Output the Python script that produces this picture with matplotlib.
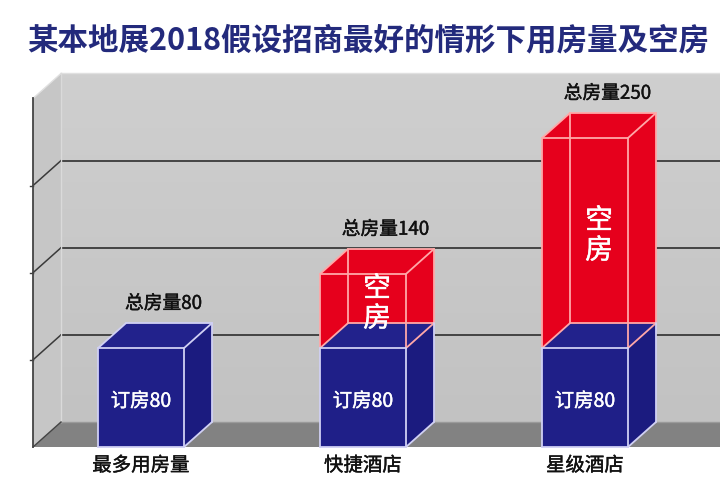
import numpy as np
import matplotlib
matplotlib.use('Agg')
import matplotlib.pyplot as plt
import matplotlib.patheffects as pe
from matplotlib.patches import Polygon

plt.rcParams['font.family'] = ['Noto Sans CJK SC', 'DejaVu Sans']

# data
categories = ['最多用房量', '快捷酒店', '星级酒店']
booked = [80, 80, 80]
total = [80, 140, 250]
title = '某本地展2018假设招商最好的情形下用房量及空房'

# colours
BLUE_FRONT = '#1f1f88'
BLUE_SIDE = '#1b1b7f'
BLUE_TOP = '#22228c'
RED = '#e6001c'
BLUE_EDGE = '#d0d0f4'
RED_EDGE = '#ffa8a8'

# 3d geometry (data units)
px_y = 1.236          # pixels per value unit
px_x = 222.0          # pixels per category step
width = 86 / px_x
dx = 28 / px_x
dy = 25 / px_y
grid_step = 70.5
ymax = 4 * grid_step
wall_x = (33 - 141) / px_x

fig = plt.figure(figsize=(7.2, 4.9), dpi=100)
ax = fig.add_axes([0, 0, 1, 1])
ax.set_xlim(-141 / px_x, (720 - 141) / px_x)
ax.set_ylim(-43 / px_y, 447 / px_y)
ax.axis('off')


def thick(c):
    # a touch heavier than the regular weight
    return [pe.Stroke(linewidth=0.3, foreground=c), pe.Normal()]


right = 4.0
# back wall with a soft vertical gradient
back = Polygon([(wall_x + dx, dy), (right, dy), (right, ymax + dy), (wall_x + dx, ymax + dy)],
               closed=True, facecolor='none', edgecolor='none')
ax.add_patch(back)
grad = np.linspace(0, 1, 64).reshape(-1, 1)
im = ax.imshow(grad, cmap=matplotlib.colors.LinearSegmentedColormap.from_list('w', ['#c2c2c2', '#cfcfcf']),
               extent=(wall_x + dx, right, dy, ymax + dy), origin='lower', aspect='auto', zorder=1)
im.set_clip_path(back)
# left wall
ax.add_patch(Polygon([(wall_x, 0), (wall_x + dx, dy), (wall_x + dx, ymax + dy), (wall_x, ymax)],
                     closed=True, facecolor='#c6c6c6', edgecolor='none', zorder=1))
# floor
ax.add_patch(Polygon([(wall_x, 0), (right, 0), (right, dy), (wall_x + dx, dy)],
                     closed=True, facecolor='#828282', edgecolor='none', zorder=1))

# grid lines on the walls
for k in range(1, 4):
    g = k * grid_step
    ax.plot([wall_x + dx, right], [g + dy, g + dy], color='#3a3a3a', lw=1.3, zorder=2)
    ax.plot([wall_x, wall_x + dx], [g, g + dy], color='#3a3a3a', lw=1.1, zorder=2)
    ax.plot([wall_x - 0.012, wall_x], [g, g], color='#3a3a3a', lw=1.0, zorder=2)
ax.plot([wall_x + dx, right], [ymax + dy, ymax + dy], color='#e0e0e0', lw=1.0, zorder=2)
ax.plot([wall_x, wall_x + dx], [ymax, ymax + dy], color='#e0e0e0', lw=1.0, zorder=2)
ax.plot([wall_x + dx, wall_x + dx], [dy, ymax + dy], color='#dadada', lw=1.0, zorder=2)
ax.plot([wall_x + dx, right], [dy, dy], color='#9a9a9a', lw=1.0, zorder=2)
ax.plot([wall_x, wall_x], [0, ymax], color='#444444', lw=1.3, zorder=2)
ax.plot([wall_x, wall_x + dx], [0, dy], color='#444444', lw=1.0, zorder=2)


def face(pts, fc, z):
    ax.add_patch(Polygon(pts, closed=True, facecolor=fc, edgecolor='none', zorder=z))


def edge(p, q, c, z):
    ax.plot([p[0], q[0]], [p[1], q[1]], color=c, lw=1.3, zorder=z, solid_capstyle='round')


for i, (b, t) in enumerate(zip(booked, total)):
    x0 = i - width / 2
    x1 = i + width / 2
    z = 3
    # empty rooms: open red box on top of the booked cube
    if t > b:
        face([(x0 + dx, b + dy), (x1 + dx, b + dy), (x1 + dx, t + dy), (x0 + dx, t + dy)], RED, z)
        face([(x0, b), (x0 + dx, b + dy), (x0 + dx, t + dy), (x0, t)], RED, z)
        face([(x1, b), (x1 + dx, b + dy), (x1 + dx, t + dy), (x1, t)], RED, z)
    # booked cube
    face([(x0, b), (x1, b), (x1 + dx, b + dy), (x0 + dx, b + dy)], BLUE_TOP, z + 1)
    face([(x1, 0), (x1 + dx, dy), (x1 + dx, b + dy), (x1, b)], BLUE_SIDE, z + 1)
    face([(x0, 0), (x1, 0), (x1, b), (x0, b)], BLUE_FRONT, z + 1)
    if t > b:
        for p, q in [((x0 + dx, b + dy), (x0 + dx, t + dy)), ((x0, b), (x0, t)),
                     ((x1 + dx, b + dy), (x1 + dx, t + dy)), ((x1, b), (x1, t)),
                     ((x0, t), (x1, t)), ((x0 + dx, t + dy), (x1 + dx, t + dy)),
                     ((x0, t), (x0 + dx, t + dy)), ((x1, t), (x1 + dx, t + dy))]:
            edge(p, q, RED_EDGE, z + 2)
        edge((x0 + dx, b + dy), (x1 + dx, b + dy), RED_EDGE, z + 2)
        edge((x0, b), (x0 + dx, b + dy), RED_EDGE, z + 2)
        edge((x1, b), (x1 + dx, b + dy), RED_EDGE, z + 2)
    else:
        edge((x0, b), (x0 + dx, b + dy), BLUE_EDGE, z + 2)
        edge((x1, b), (x1 + dx, b + dy), BLUE_EDGE, z + 2)
        edge((x0 + dx, b + dy), (x1 + dx, b + dy), BLUE_EDGE, z + 2)
    for p, q in [((x0, 0), (x1, 0)), ((x1, 0), (x1, b)), ((x0, b), (x1, b)),
                 ((x0, 0), (x0, b)), ((x1, 0), (x1 + dx, dy)), ((x1 + dx, dy), (x1 + dx, b + dy))]:
        edge(p, q, BLUE_EDGE, z + 2)

    ax.text(i, b / 2 - 3, '订房%d' % b, color='white', fontsize=14,
            ha='center', va='center', zorder=10, path_effects=thick('white'))
    if t > b:
        ax.text(i + dx / 2, (b + t) / 2 + 6, '空\n房', color='white', fontsize=20,
                ha='center', va='center', linespacing=1.0, zorder=10, path_effects=thick('white'))
    ax.text(i + dx * 0.8, t + dy + 16, '总房量%d' % t, color='#111111', fontsize=13.5,
            ha='center', va='center', zorder=10, path_effects=thick('#111111'))
    ax.text(i, -15, categories[i], color='#111111', fontsize=14,
            ha='center', va='center', zorder=10, path_effects=thick('#111111'))

fig.text(0.512, 0.918, title, color='#232a7c', fontsize=22, fontweight='bold',
         ha='center', va='center')

fig.savefig('out.png', dpi=100, facecolor='white')
